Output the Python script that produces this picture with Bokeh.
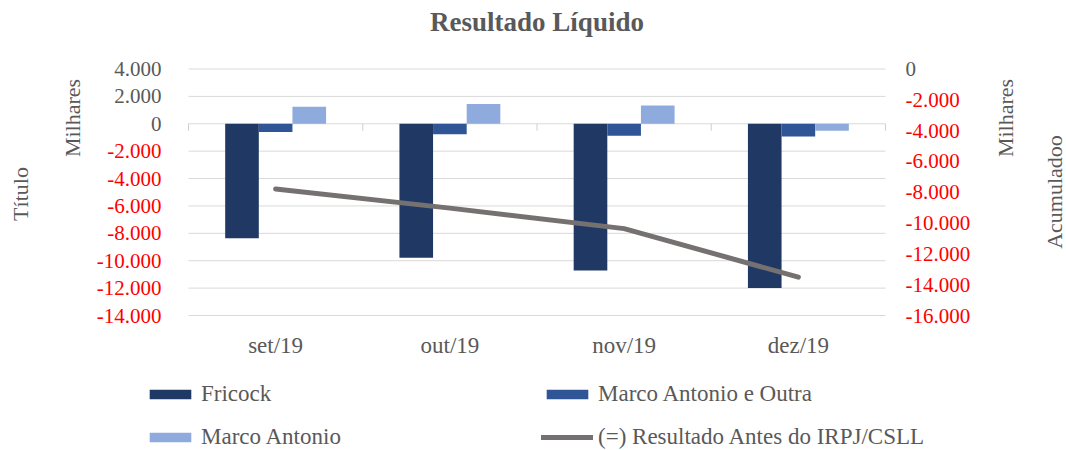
import math
from bokeh.plotting import figure
from bokeh.models import Range1d, Legend, LegendItem, ColumnDataSource
from bokeh.transform import dodge
from bokeh.core.properties import value
from bokeh.embed import file_html
from bokeh.resources import INLINE

# ---------------- data ----------------
months = ["set/19", "out/19", "nov/19", "dez/19"]
fricock = [-8350, -9780, -10720, -12000]
marco_outra = [-600, -770, -870, -920]
marco = [1240, 1450, 1330, -500]
resultado = [-7790, -9030, -10360, -13510]

left_ticks = list(range(-14000, 4001, 2000))
right_ticks = list(range(-16000, 1, 2000))
left_min, left_max = -14000, 4000
right_min, right_max = -16000, 0

series_names = ["Fricock", "Marco Antonio e Outra", "Marco Antonio",
                "(=) Resultado Antes do IRPJ/CSLL"]
title_text = "Resultado Líquido"
left_title = "Título"
right_title = "Acumuladoo"
unit_text = "Milhares"


def fmt(v):
    return f"{v:,}".replace(",", ".")


# ---------------- style / layout (pixels) ----------------
W, H = 1066, 450
FL, FR, FT, FB = 188.0, 885.0, 68.5, 315.0   # plot area edges
FONT = "Liberation Serif"
GRAY = "#595959"
RED = "#FF0000"
GRID = "#D9D9D9"
C_FRI = "#203864"
C_MAO = "#2F5597"
C_MA = "#8FAADC"
C_LINE = "#767171"

xs = list(range(len(months)))
x0, x1 = -0.5, len(months) - 0.5

xpx = (FR - FL) / (x1 - x0)
ypx = (FB - FT) / (left_max - left_min)
rpx = (FB - FT) / (right_max - right_min)
x_start, x_end = x0 - FL / xpx, x1 + (W - FR) / xpx
y_start, y_end = left_min - (H - FB) / ypx, left_max + FT / ypx
r_start, r_end = right_min - (H - FB) / rpx, right_max + FT / rpx


def px2x(px):
    return x_start + px / xpx


def px2y(py):
    return y_end - py / ypx


p = figure(width=W, height=H, x_range=Range1d(x_start, x_end),
           y_range=Range1d(y_start, y_end),
           x_axis_location=None, y_axis_location=None,
           output_backend="svg", toolbar_location=None,
           min_border=0, min_border_left=0, min_border_right=0,
           min_border_top=0, min_border_bottom=0)
p.extra_y_ranges = {"acc": Range1d(r_start, r_end)}
p.outline_line_color = None
p.grid.visible = False

# grid lines (left-axis ticks, across the plot area)
n = len(left_ticks)
p.segment(x0=[x0] * n, x1=[x1] * n, y0=left_ticks, y1=left_ticks,
          line_color=GRID, line_width=1)
# category boundary tick marks on the zero line
bounds = [x0 + i for i in range(len(months) + 1)]
p.segment(x0=bounds, x1=bounds, y0=[0] * len(bounds),
          y1=[-7 / ypx] * len(bounds), line_color="#CFCFCF", line_width=1)

src = ColumnDataSource(dict(x=xs, fricock=fricock, marco_outra=marco_outra,
                            marco=marco, resultado=resultado))
bw = 0.193
r1 = p.vbar(x=dodge("x", -bw), top="fricock", bottom=0, width=bw, source=src,
            fill_color=C_FRI, line_color=None)
r2 = p.vbar(x=dodge("x", 0), top="marco_outra", bottom=0, width=bw, source=src,
            fill_color=C_MAO, line_color=None)
r3 = p.vbar(x=dodge("x", bw), top="marco", bottom=0, width=bw, source=src,
            fill_color=C_MA, line_color=None)
r4 = p.line(x="x", y="resultado", source=src, y_range_name="acc",
            line_color=C_LINE, line_width=5, line_cap="round", line_join="round")

# ---- tick labels ----
p.text(x=[px2x(FL - 27)] * n, y=left_ticks, text=[fmt(v) for v in left_ticks],
       text_color=[GRAY if v >= 0 else RED for v in left_ticks],
       text_align="right", text_baseline="middle",
       text_font=value(FONT), text_font_size=value("21px"))
m = len(right_ticks)
p.text(x=[px2x(FR + 20)] * m, y=right_ticks, y_range_name="acc",
       text=[fmt(v) for v in right_ticks],
       text_color=[GRAY if v >= 0 else RED for v in right_ticks],
       text_align="left", text_baseline="middle",
       text_font=value(FONT), text_font_size=value("21px"))
p.text(x=xs, y=[px2y(344.5)] * len(xs), text=months, text_color=GRAY,
       text_align="center", text_baseline="middle",
       text_font=value(FONT), text_font_size=value("23px"))

# ---- titles ----
p.text(x=[(x0 + x1) / 2], y=[px2y(21)], text=[title_text], text_color=GRAY,
       text_align="center", text_baseline="middle",
       text_font=value(FONT), text_font_style="bold",
       text_font_size=value("27px"))
p.text(x=[px2x(19.5), px2x(71.5), px2x(1004.5), px2x(1054)],
       y=[px2y(193.5), px2y(117.5), px2y(117.5), px2y(191.5)],
       text=[left_title, unit_text, unit_text, right_title],
       angle=math.pi / 2, text_color=GRAY,
       text_align="center", text_baseline="middle",
       text_font=value(FONT), text_font_size=value("22px"))

# ---- legend ----
legend = Legend(items=[LegendItem(label=series_names[0], renderers=[r1]),
                       LegendItem(label=series_names[1], renderers=[r2]),
                       LegendItem(label=series_names[2], renderers=[r3]),
                       LegendItem(label=series_names[3], renderers=[r4])],
                location=(144, 0), orientation="horizontal", ncols=2,
                padding=0, margin=0, spacing=17,
                glyph_width=52, glyph_height=12, label_standoff=5,
                label_width=323,
                label_text_font=FONT, label_text_font_size="23px",
                label_text_color=GRAY,
                border_line_color=None, background_fill_alpha=0)
p.add_layout(legend)

open("out.html", "w").write(file_html(p, INLINE))
